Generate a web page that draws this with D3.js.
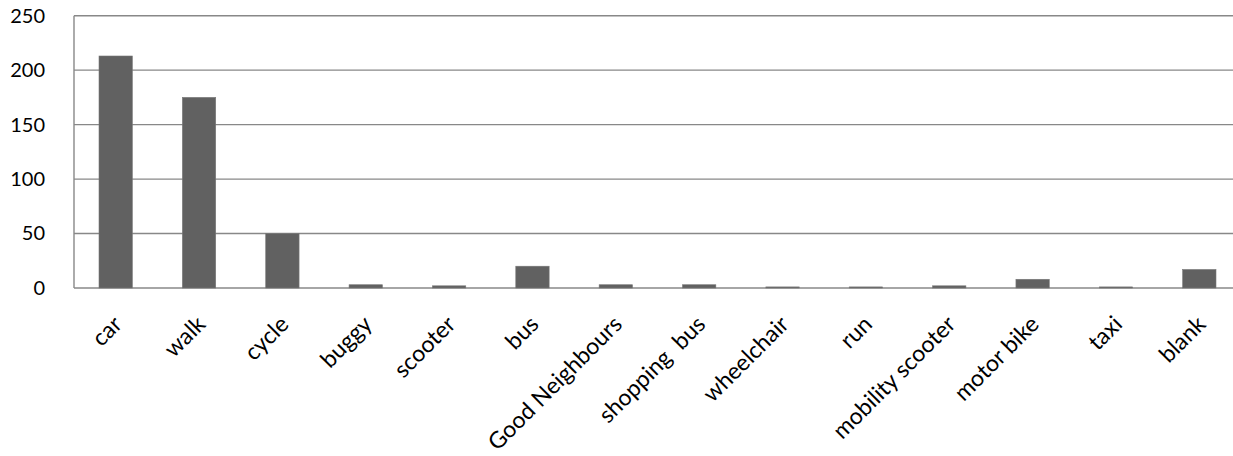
<!DOCTYPE html>
<html><head><meta charset="utf-8">
<script src="https://cdn.jsdelivr.net/npm/d3@7"></script>
<style>
html,body{margin:0;padding:0;background:#fff;overflow:hidden;}
svg{display:block;}
text{font-family:Lato,"Open Sans",sans-serif;fill:#000;white-space:pre;}
</style></head>
<body>
<svg id="chart" width="1233" height="456"></svg>
<script>
const categories = ["car","walk","cycle","buggy","scooter","bus","Good Neighbours","shopping  bus","wheelchair","run","mobility scooter","motor bike","taxi","blank"];
const values = [213,175,50,3,2,20,3,3,1,1,2,8,1,17];
const yTicks = [0,50,100,150,200,250];

const svg = d3.select("#chart");
const mLeft = 74, mRight = 1241, mTop = 15.7, mBottom = 288;

const x = d3.scaleBand().domain(categories).range([mLeft, mRight]).paddingInner(0.6).paddingOuter(0.3);
const y = d3.scaleLinear().domain([0,250]).range([mBottom, mTop]);

// gridlines
svg.append("g").selectAll("line").data(yTicks).join("line")
  .attr("x1", mLeft).attr("x2", mRight)
  .attr("y1", d => y(d)).attr("y2", d => y(d))
  .attr("stroke", "#888").attr("stroke-width", 1.4);

// left axis line
svg.append("line").attr("x1", mLeft).attr("x2", mLeft).attr("y1", mTop).attr("y2", mBottom)
  .attr("stroke", "#888").attr("stroke-width", 1.4);

// bars
svg.append("g").selectAll("rect").data(values).join("rect")
  .attr("x", (d,i) => x(categories[i]))
  .attr("width", x.bandwidth())
  .attr("y", d => y(d))
  .attr("height", d => y(0) - y(d))
  .attr("fill", "#616161")
  .attr("stroke", "#777").attr("stroke-width", 0.6);

// y axis labels
const yAxis = d3.axisLeft(y).tickValues(yTicks).tickSize(0).tickPadding(0);
const yg = svg.append("g").attr("transform", `translate(${mLeft-29},0)`).call(yAxis);
yg.select(".domain").remove();
yg.selectAll("text").attr("font-size", "20px").attr("font-family", "Lato, sans-serif").attr("fill", "#000");

// x labels
const xAxis = d3.axisBottom(x).tickSize(0).tickPadding(0);
const xg = svg.append("g").attr("transform", `translate(0,${mBottom})`).call(xAxis);
xg.select(".domain").remove();
xg.selectAll("text")
  .attr("font-size", "23px").attr("font-family", "Lato, sans-serif").attr("fill", "#000")
  .attr("xml:space", "preserve")
  .style("white-space", "pre")
  .attr("text-anchor", "end")
  .attr("y", 0)
  .attr("transform", "translate(2,32) rotate(-45)")
  .attr("dy", "0.35em");
</script>
</body></html>
